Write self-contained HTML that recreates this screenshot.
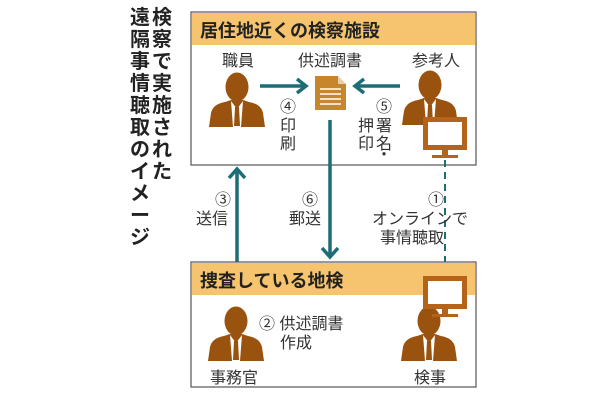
<!DOCTYPE html>
<html><head><meta charset="utf-8"><style>
body{margin:0;background:#fff;}
svg text{font-family:"Liberation Sans","Noto Sans CJK JP",sans-serif;}
</style></head><body>
<svg width="610" height="400" viewBox="0 0 610 400" xmlns="http://www.w3.org/2000/svg">
<defs>
<g id="p">
<ellipse cx="0" cy="-24" rx="11.5" ry="14.5" fill="#9a520f"/>
<path d="M-28 16 L-26 2 Q-24 -7 -12 -9 L-6 -11 L6 -11 L12 -9 Q24 -7 26 2 L28 16 Z" fill="#9a520f"/>
<path d="M-6 -10 L0 -2 L6 -10 L4 16 L-4 16 Z" fill="#fff"/>
<path d="M-2 -4 L2 -4 L3 15 L-3 15 Z" fill="#9a520f"/>
</g>
<g id="m">
<rect x="-22" y="0" width="44" height="33" fill="#b5621a"/>
<rect x="-17" y="5" width="34" height="23" fill="#fff"/>
<rect x="-3" y="33" width="6" height="6" fill="#b5621a"/>
<rect x="-13" y="38" width="26" height="3" fill="#b5621a"/>
</g>
</defs>
<!-- title -->
<g font-size="20" font-weight="bold" fill="#222" text-anchor="middle">
<text x="162" y="24">検</text><text x="162" y="46">察</text><text x="162" y="68">で</text><text x="162" y="90">実</text><text x="162" y="112">施</text><text x="162" y="134">さ</text><text x="162" y="156">れ</text><text x="162" y="178">た</text>
<text x="140" y="24">遠</text><text x="140" y="46">隔</text><text x="140" y="68">事</text><text x="140" y="90">情</text><text x="140" y="112">聴</text><text x="140" y="134">取</text><text x="140" y="156">の</text><text x="140" y="178">イ</text><text x="140" y="200">メ</text><text x="140" y="222">ー</text><text x="140" y="244">ジ</text>
</g>
<!-- top box -->
<rect x="191" y="12" width="285" height="153" fill="#fff" stroke="#555" stroke-width="1.2"/>
<rect x="192" y="13" width="283" height="32" fill="#f6c46e"/>
<text x="200" y="37" font-size="18" font-weight="bold" fill="#222">居住地近くの検察施設</text>
<g font-size="16" fill="#333" text-anchor="middle">
<text x="238" y="66">職員</text><text x="330" y="66">供述調書</text><text x="436" y="66">参考人</text>
</g>
<use href="#p" x="237" y="111"/>
<use href="#p" x="430" y="109"/>
<use href="#m" x="445" y="117"/>
<!-- document -->
<path d="M315 76 L338 76 L346 84 L346 110 L315 110 Z" fill="#c8862c"/>
<path d="M338 76 L338 84 L346 84 Z" fill="#fff" opacity="0.6"/>
<g stroke="#fff" stroke-width="1.4"><line x1="320" y1="89" x2="341" y2="89"/><line x1="320" y1="94" x2="341" y2="94"/><line x1="320" y1="99" x2="341" y2="99"/><line x1="320" y1="104" x2="341" y2="104"/></g>
<!-- arrows -->
<g stroke="#1d6d76" stroke-width="3.5" fill="none">
<line x1="260" y1="86" x2="305" y2="86"/><path d="M297 79 L306 86 L297 93"/>
<line x1="400" y1="86" x2="356" y2="86"/><path d="M364 79 L355 86 L364 93"/>
<line x1="330" y1="120" x2="330" y2="256"/><path d="M322 248 L330 257 L338 248"/>
<line x1="237" y1="262" x2="237" y2="170"/><path d="M229 178 L237 169 L245 178"/>
</g>
<line x1="445" y1="160" x2="445" y2="280" stroke="#1d6d76" stroke-width="2" stroke-dasharray="7,5"/>
<g font-size="16" fill="#333" text-anchor="middle">
<text x="288" y="112">④</text><text x="288" y="131">印</text><text x="288" y="149">刷</text>
<text x="384" y="112">⑤</text><text x="384" y="131">署</text><text x="384" y="149">名</text><text x="384" y="160">・</text><text x="366" y="131">押</text><text x="366" y="149">印</text>
<text x="223" y="205">③</text><text x="212" y="224">送信</text>
<text x="310" y="205">⑥</text><text x="305" y="224">郵送</text>
<text x="436" y="205">①</text><text x="420" y="224">オンラインで</text><text x="412" y="243">事情聴取</text>
</g>
<!-- bottom box -->
<rect x="191" y="262" width="285" height="125" fill="#fff" stroke="#555" stroke-width="1.2"/>
<rect x="192" y="263" width="283" height="32" fill="#f6c46e"/>
<text x="200" y="287" font-size="18" font-weight="bold" fill="#222">捜査している地検</text>
<use href="#p" x="236" y="345"/>
<use href="#p" x="429" y="345"/>
<use href="#m" x="445" y="276"/>
<g font-size="16" fill="#333">
<text x="259" y="329">② 供述調書</text><text x="280" y="348">作成</text>
<text x="234" y="383" text-anchor="middle">事務官</text><text x="430" y="383" text-anchor="middle">検事</text>
</g>
</svg>
</body></html>
